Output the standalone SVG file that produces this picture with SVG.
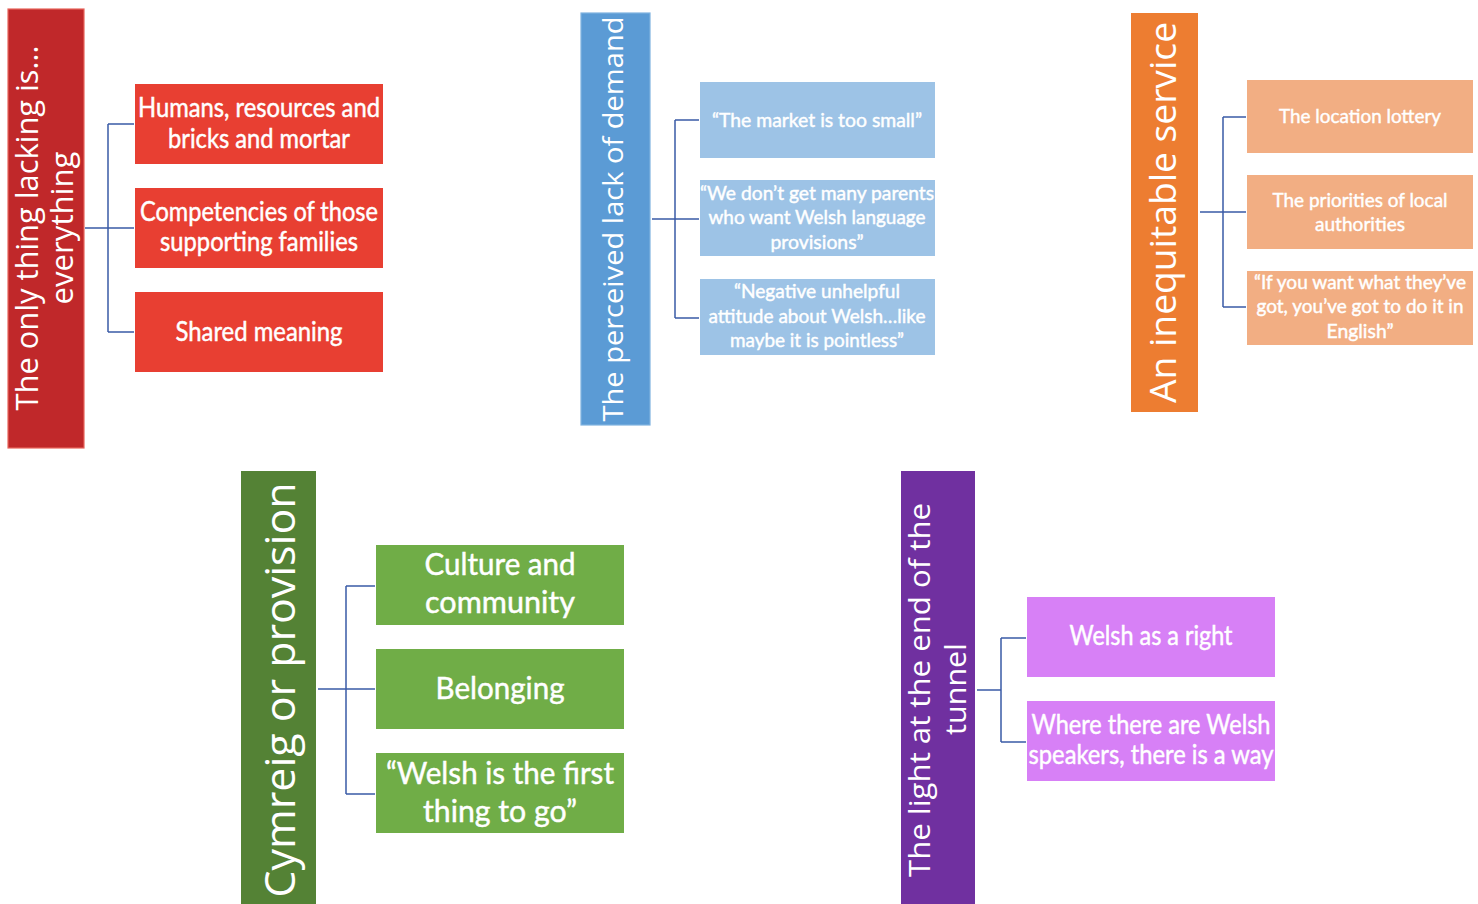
<svg xmlns="http://www.w3.org/2000/svg" width="1478" height="904" viewBox="0 0 1478 904">
<style>
.main{font-family:"Open Sans","DejaVu Sans",sans-serif;fill:#fff;text-anchor:middle}
.t{font-family:Lato,"Liberation Sans",sans-serif;fill:#fff;stroke:#fff;stroke-width:0.45;text-anchor:middle}
.conn{fill:none;stroke:#3a5ba6;stroke-width:1.5}
.box{stroke-width:1.2}
</style>
<rect width="1478" height="904" fill="#fff"/>
<g id="connectors">
<path class="conn" d="M85,228H108M108,124V332M108,124H134M108,228H134M108,332H134"/>
<path class="conn" d="M652,219H675M675,120V318M675,120H699M675,219H699M675,318H699"/>
<path class="conn" d="M1200,212H1223M1223,117V307M1223,117H1246M1223,212H1246M1223,307H1246"/>
<path class="conn" d="M318,689H346M346,586V794M346,586H375M346,689H375M346,794H375"/>
<path class="conn" d="M977,690H1001M1001,638V742M1001,638H1026M1001,742H1026"/>
</g>
<g id="g1-main">
<rect x="8" y="9" width="76" height="439" fill="#c0282a" stroke="#e8655d" class="box"/>
<text class="main" font-size="31" transform="translate(38,228) rotate(-90)" textLength="365" lengthAdjust="spacingAndGlyphs">The only thing lacking is…</text>
<text class="main" font-size="31" transform="translate(73,228) rotate(-90)" textLength="153" lengthAdjust="spacingAndGlyphs">everything</text>
</g>
<g id="g1-c1">
<rect x="135" y="84" width="248" height="80" fill="#e83f32"/>
<text class="t" font-size="26" x="259" y="117" textLength="242" lengthAdjust="spacingAndGlyphs">Humans, resources and</text>
<text class="t" font-size="26" x="259" y="148" textLength="182" lengthAdjust="spacingAndGlyphs">bricks and mortar</text>
</g>
<g id="g1-c2">
<rect x="135" y="188" width="248" height="80" fill="#e83f32"/>
<text class="t" font-size="26" x="259" y="221" textLength="238" lengthAdjust="spacingAndGlyphs">Competencies of those</text>
<text class="t" font-size="26" x="259" y="251" textLength="198" lengthAdjust="spacingAndGlyphs">supporting families</text>
</g>
<g id="g1-c3">
<rect x="135" y="292" width="248" height="80" fill="#e83f32"/>
<text class="t" font-size="26" x="259" y="341" textLength="167" lengthAdjust="spacingAndGlyphs">Shared meaning</text>
</g>
<g id="g2-main">
<rect x="581" y="13" width="69" height="412" fill="#5b9bd5" stroke="#7fb2e0" class="box"/>
<text class="main" font-size="27" transform="translate(623,219) rotate(-90)" textLength="405" lengthAdjust="spacingAndGlyphs">The perceived lack of demand</text>
</g>
<g id="g2-c1">
<rect x="700" y="82" width="235" height="76" fill="#9dc3e6"/>
<text class="t" font-size="20" x="817" y="127" textLength="210" lengthAdjust="spacingAndGlyphs">“The market is too small”</text>
</g>
<g id="g2-c2">
<rect x="700" y="180" width="235" height="76" fill="#9dc3e6"/>
<text class="t" font-size="20" x="817" y="200" textLength="234" lengthAdjust="spacingAndGlyphs">“We don’t get many parents</text>
<text class="t" font-size="20" x="817" y="224" textLength="217" lengthAdjust="spacingAndGlyphs">who want Welsh language</text>
<text class="t" font-size="20" x="817" y="249" textLength="93" lengthAdjust="spacingAndGlyphs">provisions”</text>
</g>
<g id="g2-c3">
<rect x="700" y="279" width="235" height="76" fill="#9dc3e6"/>
<text class="t" font-size="20" x="817" y="298" textLength="166" lengthAdjust="spacingAndGlyphs">“Negative unhelpful</text>
<text class="t" font-size="20" x="817" y="323" textLength="217" lengthAdjust="spacingAndGlyphs">attitude about Welsh…like</text>
<text class="t" font-size="20" x="817" y="347" textLength="174" lengthAdjust="spacingAndGlyphs">maybe it is pointless”</text>
</g>
<g id="g3-main">
<rect x="1131" y="13" width="67" height="399" fill="#ed7d31"/>
<text class="main" font-size="36" transform="translate(1176,212.5) rotate(-90)" textLength="381" lengthAdjust="spacingAndGlyphs">An inequitable service</text>
</g>
<g id="g3-c1">
<rect x="1247" y="80" width="226" height="73" fill="#f2ae83"/>
<text class="t" font-size="20" x="1360" y="123" textLength="162" lengthAdjust="spacingAndGlyphs">The location lottery</text>
</g>
<g id="g3-c2">
<rect x="1247" y="175" width="226" height="74" fill="#f2ae83"/>
<text class="t" font-size="20" x="1360" y="207" textLength="175" lengthAdjust="spacingAndGlyphs">The priorities of local</text>
<text class="t" font-size="20" x="1360" y="231" textLength="90" lengthAdjust="spacingAndGlyphs">authorities</text>
</g>
<g id="g3-c3">
<rect x="1247" y="271" width="226" height="74" fill="#f2ae83"/>
<text class="t" font-size="20" x="1360" y="289" textLength="212" lengthAdjust="spacingAndGlyphs">“If you want what they’ve</text>
<text class="t" font-size="20" x="1360" y="313" textLength="207" lengthAdjust="spacingAndGlyphs">got, you’ve got to do it in</text>
<text class="t" font-size="20" x="1360" y="338" textLength="67" lengthAdjust="spacingAndGlyphs">English”</text>
</g>
<g id="g4-main">
<rect x="241" y="471" width="75" height="440" fill="#548235"/>
<text class="main" font-size="42" transform="translate(295,690) rotate(-90)" textLength="415" lengthAdjust="spacingAndGlyphs">Cymreig or provision</text>
</g>
<g id="g4-c1">
<rect x="376" y="545" width="248" height="80" fill="#70ad47"/>
<text class="t" font-size="30" x="500" y="575" textLength="151" lengthAdjust="spacingAndGlyphs">Culture and</text>
<text class="t" font-size="30" x="500" y="613" textLength="150" lengthAdjust="spacingAndGlyphs">community</text>
</g>
<g id="g4-c2">
<rect x="376" y="649" width="248" height="80" fill="#70ad47"/>
<text class="t" font-size="30" x="500" y="699" textLength="129" lengthAdjust="spacingAndGlyphs">Belonging</text>
</g>
<g id="g4-c3">
<rect x="376" y="753" width="248" height="80" fill="#70ad47"/>
<text class="t" font-size="30" x="500" y="784" textLength="228" lengthAdjust="spacingAndGlyphs">“Welsh is the first</text>
<text class="t" font-size="30" x="500" y="822" textLength="154" lengthAdjust="spacingAndGlyphs">thing to go”</text>
</g>
<g id="g5-main">
<rect x="901" y="471" width="74" height="440" fill="#7030a0"/>
<text class="main" font-size="30" transform="translate(930,690) rotate(-90)" textLength="374" lengthAdjust="spacingAndGlyphs">The light at the end of the</text>
<text class="main" font-size="30" transform="translate(966,689) rotate(-90)" textLength="92" lengthAdjust="spacingAndGlyphs">tunnel</text>
</g>
<g id="g5-c1">
<rect x="1027" y="597" width="248" height="80" fill="#d780f6"/>
<text class="t" font-size="26" x="1151" y="645" textLength="163" lengthAdjust="spacingAndGlyphs">Welsh as a right</text>
</g>
<g id="g5-c2">
<rect x="1027" y="701" width="248" height="80" fill="#d780f6"/>
<text class="t" font-size="26" x="1151" y="734" textLength="239" lengthAdjust="spacingAndGlyphs">Where there are Welsh</text>
<text class="t" font-size="26" x="1151" y="764" textLength="245" lengthAdjust="spacingAndGlyphs">speakers, there is a way</text>
</g>
</svg>
